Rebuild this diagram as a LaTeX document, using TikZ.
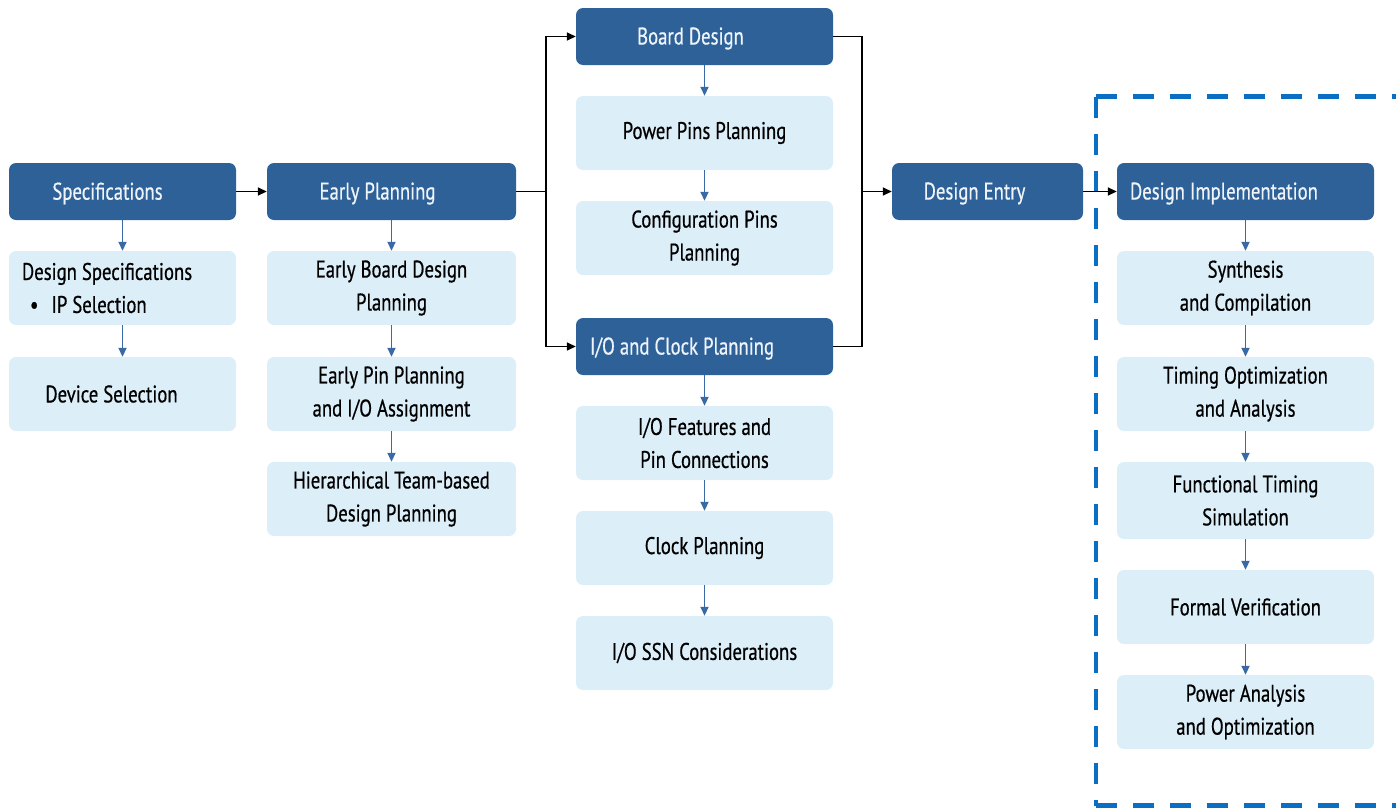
\documentclass[tikz,border=0pt]{standalone}
\usepackage{fontspec}
\setmainfont[FakeStretch=0.78,FakeBold=0.6]{PT Sans}
\usetikzlibrary{arrows.meta}

\definecolor{headfill}{HTML}{2E6198}
\definecolor{headtext}{HTML}{EEF4FA}
\definecolor{stepfill}{HTML}{DCEEF8}
\definecolor{steparrow}{HTML}{3A6AA6}
\definecolor{zoneblue}{HTML}{0A6FC2}

\tikzset{
  headbox/.style={draw=none, fill=headfill, rounded corners=7pt,
    minimum height=57pt, inner sep=0pt},
  headlabel/.style={text=headtext, font=\fontsize{24}{33}\selectfont, inner sep=0pt},
  stepbox/.style={draw=none, fill=stepfill, rounded corners=7pt,
    minimum height=74pt, inner sep=0pt, text=black, align=center,
    font=\fontsize{24}{33}\selectfont},
  steplabel/.style={text=black, align=left, inner sep=0pt,
    font=\fontsize{24}{33}\selectfont},
  flow/.style={draw=black, line width=1.6pt, -{Triangle[length=9pt,width=8pt]}},
  flowline/.style={draw=black, line width=1.6pt},
  substep/.style={draw=steparrow, line width=1.8pt, -{Triangle[length=9pt,width=8pt]}},
  zone/.style={draw=zoneblue, line width=4.5pt, dash pattern=on 21pt off 16pt}
}

\begin{document}
\begin{tikzpicture}[x=1pt,y=-1pt]
\useasboundingbox (0,0) rectangle (1396,811);
\clip (0,0) rectangle (1396,811);

% implementation zone outline
\draw[zone] (1096,96.5) -- (1420,96.5);
\draw[zone] (1096,96.5) -- (1096,805.5);
\draw[zone] (1096,805.5) -- (1420,805.5);

% column 1: specifications
\node[headbox, minimum width=227pt] (spec) at (122.5,191.5) {};
\node[headlabel] at ([xshift=-15pt,yshift=-2pt]spec.center) {Specifications};
\node[stepbox, minimum width=227pt] (dspec) at (122.5,288) {};
\node[steplabel, anchor=west] at ([xshift=13pt]dspec.west) {Design Specifications\\\hspace*{8pt}•\hspace*{13pt}IP Selection};
\node[stepbox, minimum width=227pt] (devsel) at (122.5,394) {Device Selection\hspace*{22pt}};

% column 2: early planning
\node[headbox, minimum width=249pt] (early) at (391.5,191.5) {};
\node[headlabel] at ([xshift=-14pt,yshift=-2pt]early.center) {Early Planning};
\node[stepbox, minimum width=249pt] (ebd) at (391.5,288) {Early Board Design\\Planning};
\node[stepbox, minimum width=249pt] (epp) at (391.5,394) {Early Pin Planning\\and I/O Assignment};
\node[stepbox, minimum width=249pt] (htb) at (391.5,499) {Hierarchical Team-based\\Design Planning};

% column 3: board design and I/O planning
\node[headbox, minimum width=257pt] (board) at (704.5,36.5) {};
\node[headlabel] at ([xshift=-14pt,yshift=-2pt]board.center) {Board Design};
\node[stepbox, minimum width=257pt] (ppp) at (704.5,133) {Power Pins Planning};
\node[stepbox, minimum width=257pt] (cpp) at (704.5,238) {Configuration Pins\\Planning};

\node[headbox, minimum width=257pt] (ioclk) at (704.5,346.5) {};
\node[headlabel, anchor=west] at ([xshift=14pt,yshift=-2pt]ioclk.west) {I/O and Clock Planning};
\node[stepbox, minimum width=257pt] (iof) at (704.5,443) {I/O Features and\\Pin Connections};
\node[stepbox, minimum width=257pt] (clk) at (704.5,548) {Clock Planning};
\node[stepbox, minimum width=257pt] (ssn) at (704.5,653) {I/O SSN Considerations};

% column 4: design entry
\node[headbox, minimum width=191pt] (entry) at (987.5,191.5) {};
\node[headlabel] at ([xshift=-13pt,yshift=-2pt]entry.center) {Design Entry};

% column 5: design implementation
\node[headbox, minimum width=257pt] (impl) at (1245.5,191.5) {};
\node[headlabel, anchor=west] at ([xshift=13pt,yshift=-2pt]impl.west) {Design Implementation};
\node[stepbox, minimum width=257pt] (syn) at (1245.5,288) {Synthesis\\and Compilation};
\node[stepbox, minimum width=257pt] (top) at (1245.5,394) {Timing Optimization\\and Analysis};
\node[stepbox, minimum width=257pt, minimum height=77pt] (fts) at (1245.5,500.5) {Functional Timing\\Simulation};
\node[stepbox, minimum width=257pt] (fv) at (1245.5,607) {Formal Verification};
\node[stepbox, minimum width=257pt] (pa) at (1245.5,712) {Power Analysis\\and Optimization};

% main flow
\coordinate (splitL) at (546,191.5);
\coordinate (joinR) at (862,191.5);
\draw[flow] (spec.east) -- (early.west);
\draw[flowline] (early.east) -- (splitL);
\draw[flow] (splitL) |- (board.west);
\draw[flow] (splitL) |- (ioclk.west);
\draw[flowline] (board.east) -| (joinR);
\draw[flowline] (ioclk.east) -| (joinR);
\draw[flow] (joinR) -- (entry.west);
\draw[flow] (entry.east) -- (impl.west);

% sub-steps
\draw[substep] (spec.south) -- (dspec.north);
\draw[substep] (dspec.south) -- (devsel.north);
\draw[substep] (early.south) -- (ebd.north);
\draw[substep] (ebd.south) -- (epp.north);
\draw[substep] (epp.south) -- (htb.north);
\draw[substep] (board.south) -- (ppp.north);
\draw[substep] (ppp.south) -- (cpp.north);
\draw[substep] (ioclk.south) -- (iof.north);
\draw[substep] (iof.south) -- (clk.north);
\draw[substep] (clk.south) -- (ssn.north);
\draw[substep] (impl.south) -- (syn.north);
\draw[substep] (syn.south) -- (top.north);
\draw[substep] (top.south) -- (fts.north);
\draw[substep] (fts.south) -- (fv.north);
\draw[substep] (fv.south) -- (pa.north);
\end{tikzpicture}
\end{document}
